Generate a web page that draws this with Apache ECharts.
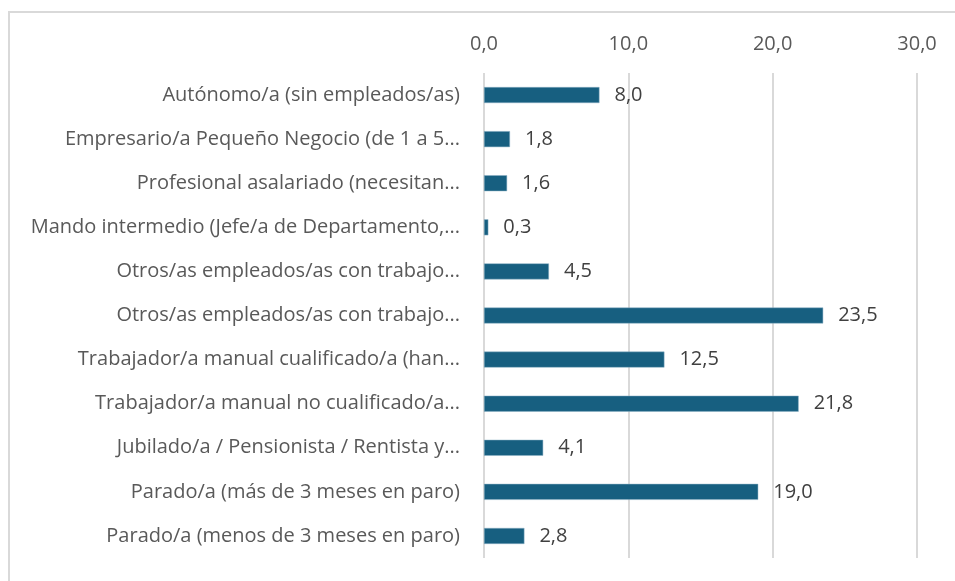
<!DOCTYPE html>
<html>
<head>
<meta charset="utf-8">
<script src="https://cdn.jsdelivr.net/npm/echarts@6/dist/echarts.min.js"></script>
<style>
  html, body { margin: 0; padding: 0; background: #fff; overflow: hidden; }
  .frame {
    position: absolute; left: 8px; top: 11px; width: 1000px; height: 700px;
    border-left: 2px solid #d9d9d9; border-top: 2px solid #d9d9d9;
  }
  #chart { position: absolute; left: 0; top: 0; width: 955px; height: 581px; }
</style>
</head>
<body>
<div class="frame"></div>
<div id="chart"></div>
<script>
// categorías (de arriba a abajo)
const categories = [
  'Autónomo/a (sin empleados/as)',
  'Empresario/a Pequeño Negocio (de 1 a 5...',
  'Profesional asalariado (necesitan...',
  'Mando intermedio (Jefe/a de Departamento,...',
  'Otros/as empleados/as con trabajo...',
  'Otros/as empleados/as con trabajo...',
  'Trabajador/a manual cualificado/a (han...',
  'Trabajador/a manual no cualificado/a...',
  'Jubilado/a / Pensionista / Rentista y...',
  'Parado/a (más de 3 meses en paro)',
  'Parado/a (menos de 3 meses en paro)'
]
const values = [8.0, 1.8, 1.6, 0.3, 4.5, 23.5, 12.5, 21.8, 4.1, 19.0, 2.8]
const axisTicks = [0, 10, 20, 30]

const fmt = v => Number(v).toFixed(1).replace('.', ',')
const font = 'Open Sans'

const chart = echarts.init(document.getElementById('chart'))
chart.setOption({
  animation: false,
  textStyle: { fontFamily: font },
  grid: { left: 484, right: 38, top: 73, bottom: 23 },
  xAxis: {
    type: 'value',
    position: 'top',
    min: axisTicks[0],
    max: axisTicks[axisTicks.length - 1],
    interval: axisTicks[1] - axisTicks[0],
    axisLine: { show: false },
    axisTick: { show: false },
    axisLabel: { formatter: fmt, color: '#595959', fontSize: 20, margin: 19, fontFamily: font },
    splitLine: { lineStyle: { color: '#d9d9d9', width: 2 } }
  },
  yAxis: {
    type: 'category',
    inverse: true,
    data: categories,
    axisLine: { show: false },
    axisTick: { show: false },
    axisLabel: { color: '#595959', fontSize: 20, margin: 24, fontFamily: font }
  },
  series: [{
    type: 'bar',
    data: values,
    barWidth: 16,
    itemStyle: { color: '#175f80', borderColor: '#8fb3c6', borderWidth: 0.5 },
    label: {
      show: true,
      position: 'right',
      distance: 15,
      formatter: p => fmt(p.value),
      color: '#404040',
      fontSize: 20,
      fontFamily: font
    }
  }]
})
</script>
</body>
</html>
